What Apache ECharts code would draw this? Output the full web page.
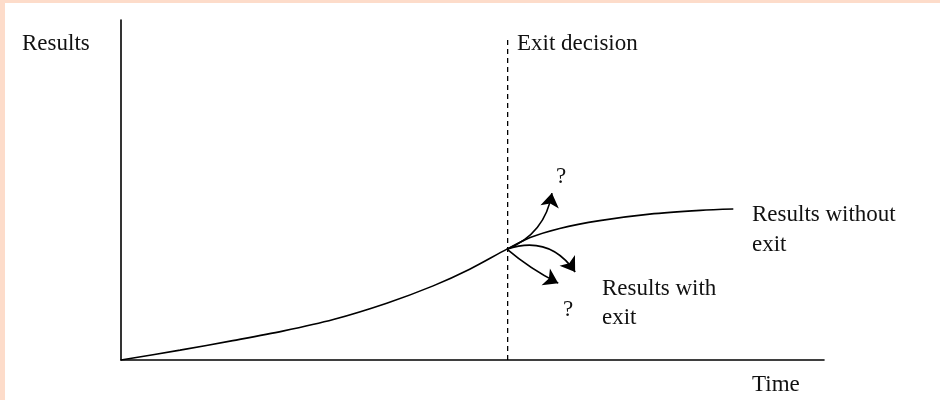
<!DOCTYPE html>
<html>
<head>
<meta charset="utf-8">
<script src="https://cdn.jsdelivr.net/npm/echarts@6/dist/echarts.min.js"></script>
<style>
html,body{margin:0;padding:0;background:#fff;}
#c{width:940px;height:400px;}
</style>
</head>
<body>
<div id="c"></div>
<script>
// Axis range (arbitrary units: time 0..100, results 0..100)
const axisMax = 100;
// Main results curve
const timeMain    = [0, 8.4, 15.9, 23.0, 30.2, 37.8, 44.4, 49.6, 54.9, 58.2, 62.4, 68.1, 75.2, 82.4, 87.1];
const resultsMain = [0, 2.9, 5.7, 8.5, 11.9, 16.7, 21.8, 26.7, 32.6, 36.0, 38.7, 41.0, 42.9, 44.0, 44.4];
// Exit decision
const decisionTime = 55;
const decisionPoint = [54.9, 32.6];
const decisionLineTop = 95.2;
// Possible trajectories after exit (arrow end points)
const arrowEnds = [[61.3, 49.1], [64.6, 25.9], [62.2, 22.6]];
const arrowCurve = [-0.28, 0.38, -0.06];
// Texts
const yName = 'Results';
const xName = 'Time';
const decisionLabel = 'Exit decision';
const withoutLabel = ['Results without', 'exit'];
const withLabel = ['Results with', 'exit'];
const unknownLabel = '?';

const chart = echarts.init(document.getElementById('c'), null, {renderer: 'canvas'});
const font = 'Liberation Serif';
const fs = 23;
const mid = 7.8; // baseline offset for middle alignment
function txt(text, x, baseline) {
  return {type: 'text', x: x, y: baseline - mid, z: 100,
    style: {text: text, fill: '#111', font: fs + 'px "' + font + '"', verticalAlign: 'middle', align: 'left'}};
}
const mainData = timeMain.map((t, i) => [t, resultsMain[i]]);
const arrowData = arrowEnds.map((e, i) => ({
  coords: [decisionPoint, e],
  lineStyle: {curveness: arrowCurve[i]}
}));

chart.setOption({
  animation: false,
  backgroundColor: '#fff',
  grid: {left: 121, right: 116, top: 20, bottom: 40},
  xAxis: {type: 'value', min: 0, max: axisMax,
    axisLine: {show: true, onZero: false, lineStyle: {color: '#000', width: 1.6}},
    axisTick: {show: false}, axisLabel: {show: false}, splitLine: {show: false}},
  yAxis: {type: 'value', min: 0, max: axisMax,
    axisLine: {show: true, onZero: false, lineStyle: {color: '#000', width: 1.6}},
    axisTick: {show: false}, axisLabel: {show: false}, splitLine: {show: false}},
  series: [
    {type: 'line', data: mainData, smooth: 0.3, symbol: 'none',
      lineStyle: {color: '#000', width: 1.6}, z: 5},
    {type: 'line', data: [[decisionTime, 0], [decisionTime, decisionLineTop]], symbol: 'none',
      lineStyle: {color: '#000', width: 1.3, type: [5, 4]}, z: 4},
    {type: 'lines', coordinateSystem: 'cartesian2d', data: arrowData,
      symbol: ['none', 'arrow'], symbolSize: [11, 14],
      lineStyle: {color: '#000', width: 1.6, opacity: 1}, z: 6}
  ],
  graphic: [
    {type: 'rect', shape: {x: 0, y: 0, width: 940, height: 3}, style: {fill: '#fddcca'}, z: 200},
    {type: 'rect', shape: {x: 0, y: 0, width: 5, height: 400}, style: {fill: '#fddcca'}, z: 200},
    txt(yName, 22, 52),
    txt(decisionLabel, 517, 52),
    txt(unknownLabel, 556, 185),
    txt(withoutLabel[0], 752, 223),
    txt(withoutLabel[1], 752, 253),
    txt(unknownLabel, 563, 318),
    txt(withLabel[0], 602, 297),
    txt(withLabel[1], 602, 326),
    txt(xName, 752, 393)
  ]
});
</script>
</body>
</html>
